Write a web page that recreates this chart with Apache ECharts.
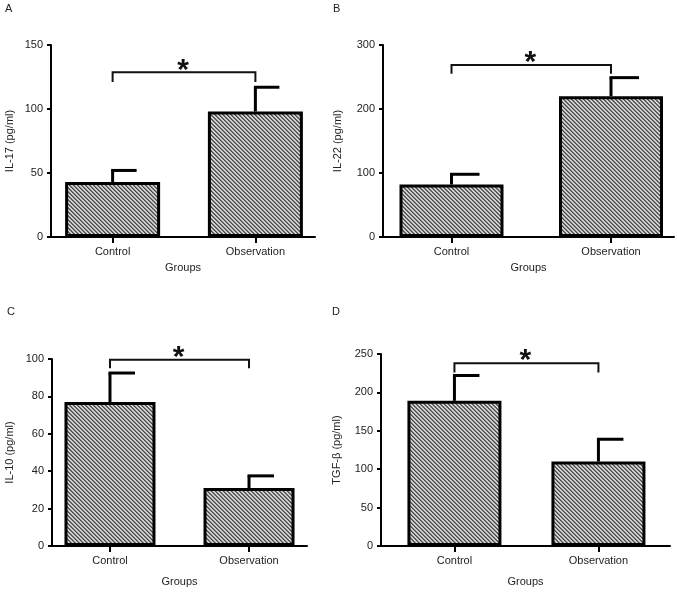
<!DOCTYPE html>
<html><head><meta charset="utf-8">
<script src="https://cdn.jsdelivr.net/npm/echarts@6/dist/echarts.min.js"></script>
<style>html,body{margin:0;padding:0;background:#fff}#c{width:677px;height:592px}</style>
</head><body><div id="c"></div>
<script>
// ---- data ----
const categories = ['Control', 'Observation'];
const panelLetters = ['A', 'B', 'C', 'D'];
const yTitles = ['IL-17 (pg/ml)', 'IL-22 (pg/ml)', 'IL-10 (pg/ml)', 'TGF-β (pg/ml)'];
const xTitle = 'Groups';
const il17Mean = [43, 98];   const il17Err = [9, 19];
const il22Mean = [82, 220];  const il22Err = [16, 29];
const il10Mean = [77, 31];   const il10Err = [15.5, 6.5];
const tgfbMean = [189, 110]; const tgfbErr = [33, 29];
const yMax = [150, 300, 100, 250];
const yInterval = [50, 100, 20, 50];
const bracketTop = [128.7, 268.7, 99.6, 238];
const bracketLeg = [121, 255, 95, 226];
const sigMark = '*';

// ---- layout ----
const FONT = '"Liberation Sans", Arial, sans-serif';
const means = [il17Mean, il22Mean, il10Mean, tgfbMean];
const errs = [il17Err, il22Err, il10Err, tgfbErr];
const grids = [
  {left: 51, top: 45, width: 264, height: 192},
  {left: 383, top: 45, width: 291, height: 192},
  {left: 52, top: 359, width: 255, height: 187},
  {left: 381, top: 354, width: 289, height: 192}
];
const xRange = [[-0.4316, 1.4175], [-0.4295, 1.395], [-0.417, 1.417], [-0.51, 1.497]];
const barW = [95, 104, 91, 94];
const capLen = [24, 28, 25, 25];
const yNameGap = [36, 40, 37, 39];
const xNameGap = [25, 25, 30, 30];
const letterPos = [[5, 3], [333, 3], [7, 306], [332, 306]];

// hatch pattern (diagonal "\" stripes)
const P = 4;
const pc = document.createElement('canvas');
pc.width = P * 2; pc.height = P * 2;
const pctx = pc.getContext('2d');
const img = pctx.createImageData(P * 2, P * 2);
const lv = [0x48, 0x7a, 0xd8, 0xc2];
for (let y = 0; y < P * 2; y++) for (let x = 0; x < P * 2; x++) {
  const k = (((x - y) % P) + P) % P;
  const i = (y * P * 2 + x) * 4;
  img.data[i] = img.data[i + 1] = img.data[i + 2] = lv[k];
  img.data[i + 3] = 255;
}
pctx.putImageData(img, 0, 0);
const hatch = {image: pc, repeat: 'repeat'};

const chart = echarts.init(document.getElementById('c'), null, {renderer: 'canvas'});
const option = {
  animation: false,
  backgroundColor: '#fff',
  title: panelLetters.map((t, i) => ({
    text: t, left: letterPos[i][0], top: letterPos[i][1], padding: 0,
    textStyle: {fontSize: 11, fontWeight: 'normal', color: '#222', fontFamily: FONT}
  })),
  grid: grids,
  xAxis: grids.map((g, i) => ({
    type: 'value', gridIndex: i, min: xRange[i][0], max: xRange[i][1],
    name: xTitle, nameLocation: 'middle', nameGap: xNameGap[i],
    nameTextStyle: {fontSize: 11, color: '#222', fontFamily: FONT},
    axisLine: {show: true, onZero: false, lineStyle: {color: '#000', width: 2}},
    axisTick: {show: true, customValues: [0, 1], length: 6, lineStyle: {color: '#000', width: 2}},
    axisLabel: {show: true, customValues: [0, 1], formatter: v => categories[Math.round(v)], fontSize: 11, color: '#222', fontFamily: FONT, margin: 9},
    splitLine: {show: false}
  })),
  yAxis: grids.map((g, i) => ({
    type: 'value', gridIndex: i, min: 0, max: yMax[i], interval: yInterval[i],
    name: yTitles[i], nameLocation: 'middle', nameGap: yNameGap[i],
    nameTextStyle: {fontSize: 11, color: '#222', fontFamily: FONT},
    axisLine: {show: true, onZero: false, lineStyle: {color: '#000', width: 2}},
    axisTick: {show: true, length: 4, lineStyle: {color: '#000', width: 2}},
    axisLabel: {fontSize: 11, color: '#222', fontFamily: FONT, margin: 8},
    splitLine: {show: false}
  })),
  series: []
};

grids.forEach((g, i) => {
  option.series.push({
    type: 'bar', xAxisIndex: i, yAxisIndex: i, barWidth: barW[i], z: 2,
    data: means[i].map((m, j) => [j, m]),
    itemStyle: {color: hatch, borderColor: '#000', borderWidth: 3}
  });
  option.series.push({
    type: 'custom', xAxisIndex: i, yAxisIndex: i, z: 1,
    encode: {x: 0, y: [1, 2]},
    data: means[i].map((m, j) => [j, m, m + errs[i][j]]),
    renderItem: (params, api) => {
      const x = api.value(0);
      const b = api.coord([x, api.value(1)]);
      const t = api.coord([x, api.value(2)]);
      return {type: 'group', children: [
        {type: 'line', shape: {x1: b[0], y1: b[1], x2: t[0], y2: t[1]}, style: {stroke: '#000', lineWidth: 3}},
        {type: 'line', shape: {x1: t[0] - 1.5, y1: t[1], x2: t[0] + capLen[i], y2: t[1]}, style: {stroke: '#000', lineWidth: 3}}
      ]};
    }
  });
  option.series.push({
    type: 'custom', xAxisIndex: i, yAxisIndex: i, z: 3,
    encode: {x: [0, 1], y: [2, 3]},
    data: [[0, 1, bracketTop[i], bracketLeg[i]]],
    renderItem: (params, api) => {
      const p0 = api.coord([api.value(0), api.value(3)]);
      const p1 = api.coord([api.value(0), api.value(2)]);
      const p2 = api.coord([api.value(1), api.value(2)]);
      const p3 = api.coord([api.value(1), api.value(3)]);
      return {type: 'group', children: [
        {type: 'polyline', shape: {points: [p0, p1, p2, p3]}, style: {stroke: '#111', lineWidth: 2, fill: null}},
        {type: 'text', x: (p1[0] + p2[0]) / 2 - 1, y: p1[1] - 2, style: {text: sigMark, font: 'bold 30px ' + FONT, fill: '#111', align: 'center', verticalAlign: 'middle'}}
      ]};
    }
  });
});

chart.setOption(option);
</script>
</body></html>
